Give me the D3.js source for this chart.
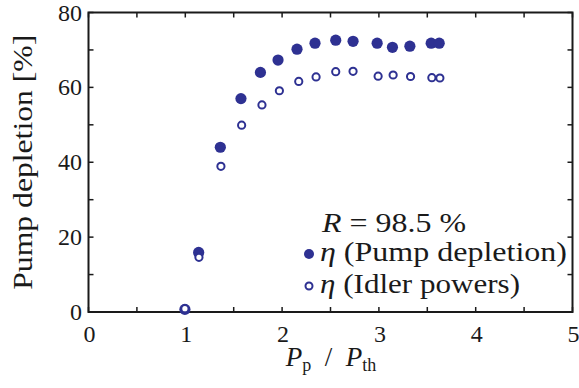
<!DOCTYPE html>
<html>
<head>
<meta charset="utf-8">
<script src="https://cdn.jsdelivr.net/npm/d3@7"></script>
<style>
  html, body { margin: 0; padding: 0; background: #fff; }
  svg { display: block; }
</style>
</head>
<body>
<svg id="chart" width="579" height="388"></svg>
<script>
// Pump depletion efficiency vs. normalised pump power (R = 98.5 %)
const pumpRatio   = [0.996, 1.138, 1.362, 1.575, 1.776, 1.958, 2.154, 2.340, 2.554, 2.733, 2.982, 3.140, 3.320, 3.540, 3.623];
const pumpDepl    = [0.7, 15.9, 44.0, 57.0, 64.0, 67.3, 70.2, 71.8, 72.6, 72.3, 71.8, 70.7, 71.0, 71.8, 71.8];
const idlerRatio  = [0.996, 1.141, 1.368, 1.582, 1.792, 1.972, 2.172, 2.351, 2.554, 2.733, 2.992, 3.147, 3.327, 3.547, 3.630];
const idlerEff    = [0.9, 14.6, 38.9, 49.9, 55.3, 59.1, 61.6, 62.8, 64.2, 64.3, 63.0, 63.3, 62.9, 62.6, 62.5];
const xTickLabels = [0, 1, 2, 3, 4, 5];
const yTickLabels = [0, 20, 40, 60, 80];
const legendNames = ["(Pump depletion)", "(Idler powers)"];

const markColor = "#2e3192";
const serif = "'Liberation Serif', 'DejaVu Serif', 'Times New Roman', Times, serif";
const svg = d3.select("#chart")
  .attr("font-family", serif)
  .style("font-family", serif)
  .attr("fill", "#1a1a1a");
const pLeft = 88.5, pRight = 572.5, pTop = 12.5, pBottom = 312;

const x = d3.scaleLinear().domain([0, 5]).range([pLeft, pRight]);
const y = d3.scaleLinear().domain([0, 80]).range([pBottom, pTop]);

const minorX = d3.range(0, 5.01, 0.5);
const minorY = d3.range(0, 80.1, 10);
const tickLen = 5;

// inward ticks on all four sides
const gAxes = svg.append("g").attr("stroke", "#1a1a1a").attr("stroke-width", 1.5);
minorX.forEach(v => {
  gAxes.append("line").attr("x1", x(v)).attr("x2", x(v)).attr("y1", pBottom).attr("y2", pBottom - tickLen);
  gAxes.append("line").attr("x1", x(v)).attr("x2", x(v)).attr("y1", pTop).attr("y2", pTop + tickLen);
});
minorY.forEach(v => {
  gAxes.append("line").attr("y1", y(v)).attr("y2", y(v)).attr("x1", pLeft).attr("x2", pLeft + tickLen);
  gAxes.append("line").attr("y1", y(v)).attr("y2", y(v)).attr("x1", pRight).attr("x2", pRight - tickLen);
});

// frame
svg.append("rect")
  .attr("x", pLeft).attr("y", pTop)
  .attr("width", pRight - pLeft).attr("height", pBottom - pTop)
  .attr("fill", "none").attr("stroke", "#1a1a1a").attr("stroke-width", 2);

// tick labels
svg.append("g").selectAll("text").data(xTickLabels).join("text")
  .attr("x", d => x(d) + 1).attr("y", 342)
  .attr("text-anchor", "middle").attr("font-size", 24)
  .style("font-family", serif)
  .text(d => d);
svg.append("g").selectAll("text").data(yTickLabels).join("text")
  .attr("x", 82).attr("y", d => y(d) + 8)
  .attr("text-anchor", "end").attr("font-size", 24)
  .style("font-family", serif)
  .text(d => d);

// axis titles
svg.append("text")
  .attr("transform", `translate(32, ${(pTop + pBottom) / 2}) rotate(-90)`)
  .attr("text-anchor", "middle").attr("font-size", 27)
  .style("font-family", serif)
  .attr("textLength", 255).attr("lengthAdjust", "spacingAndGlyphs")
  .text("Pump depletion [%]");

const xl = svg.append("text").attr("x", 331).attr("y", 366)
  .attr("text-anchor", "middle").attr("font-size", 27)
  .style("font-family", serif);
xl.append("tspan").attr("font-style", "italic").text("P");
xl.append("tspan").attr("font-size", 18).attr("dy", 5).text("p");
xl.append("tspan").attr("dy", -5).text("\u2002/\u2002");
xl.append("tspan").attr("font-style", "italic").text("P");
xl.append("tspan").attr("font-size", 18).attr("dy", 5).text("th");

// data points
svg.append("g").selectAll("circle").data(pumpRatio).join("circle")
  .attr("cx", (d) => x(d)).attr("cy", (d, i) => y(pumpDepl[i]))
  .attr("r", 5.6).attr("fill", markColor);
svg.append("g").selectAll("circle").data(idlerRatio).join("circle")
  .attr("cx", (d) => x(d)).attr("cy", (d, i) => y(idlerEff[i]))
  .attr("r", 3.6).attr("fill", "#fff").attr("stroke", markColor).attr("stroke-width", 2);

// legend
const rl = svg.append("text").attr("x", 322).attr("y", 232).attr("font-size", 27)
  .style("font-family", serif)
  .attr("textLength", 144).attr("lengthAdjust", "spacingAndGlyphs");
rl.append("tspan").attr("font-style", "italic").text("R");
rl.append("tspan").text(" = 98.5 %");

const legendRows = [
  { y: 261, w: 247, filled: true },
  { y: 293, w: 200, filled: false }
];
legendRows.forEach((row, i) => {
  const t = svg.append("text").attr("x", 320).attr("y", row.y).attr("font-size", 27)
    .style("font-family", serif)
    .attr("textLength", row.w).attr("lengthAdjust", "spacingAndGlyphs");
  t.append("tspan").attr("font-style", "italic").text("η");
  t.append("tspan").text(" " + legendNames[i]);
  if (row.filled) {
    svg.append("circle").attr("cx", 309).attr("cy", row.y - 7).attr("r", 5).attr("fill", markColor);
  } else {
    svg.append("circle").attr("cx", 309).attr("cy", row.y - 7).attr("r", 3.5)
      .attr("fill", "#fff").attr("stroke", markColor).attr("stroke-width", 2);
  }
});
</script>
</body>
</html>
